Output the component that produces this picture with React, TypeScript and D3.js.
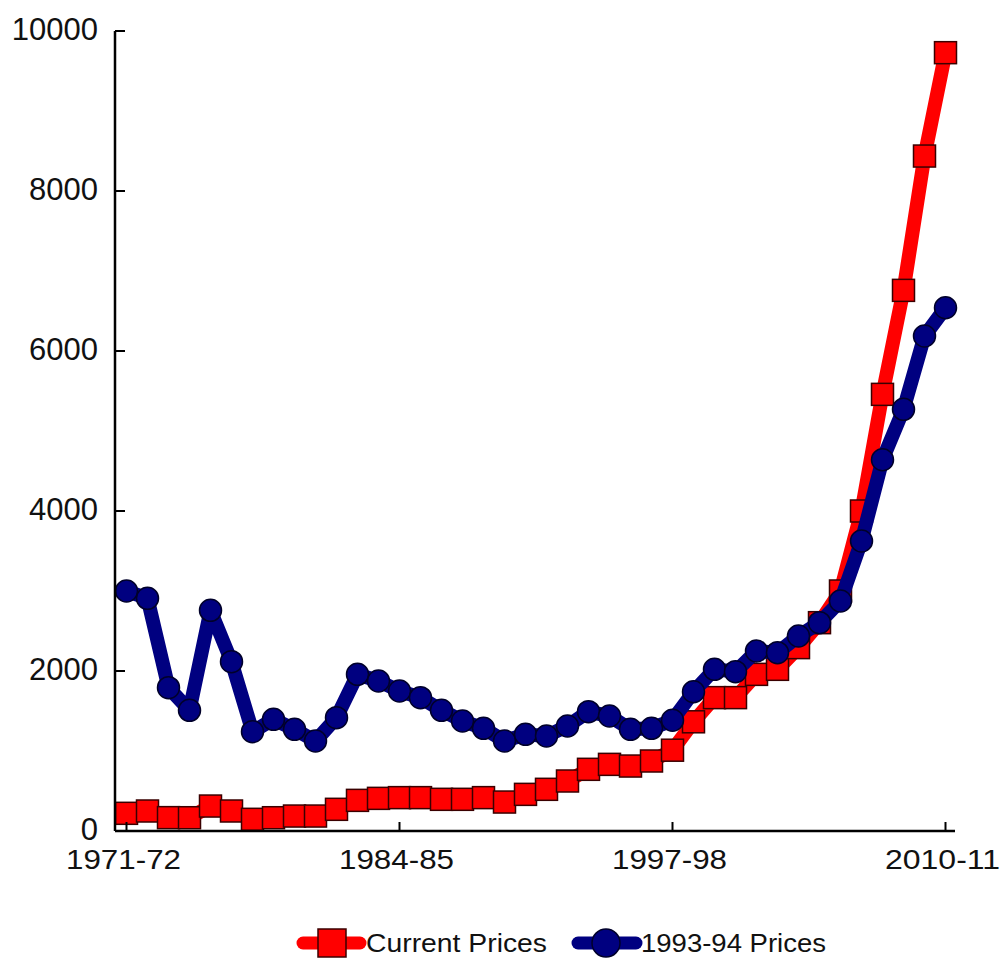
import React from "react";
import * as d3 from "d3";

const years: string[] = d3.range(1971, 2011).map((y) => `${y}-${String((y + 1) % 100).padStart(2, "0")}`);
const xTickLabels = ["1971-72", "1984-85", "1997-98", "2010-11"];
const yTicks = [0, 2000, 4000, 6000, 8000, 10000];

const currentPrices = [221, 250, 167, 166, 312, 250, 146, 166, 187, 187, 271, 383, 408, 417, 417, 396, 396, 417, 362, 458, 521, 625, 771, 833, 812, 875, 1010, 1365, 1667, 1667, 1958, 2021, 2292, 2604, 3000, 4000, 5458, 6758, 8437, 9729];
const constantPrices = [3000, 2908, 1792, 1508, 2758, 2117, 1242, 1396, 1271, 1125, 1417, 1958, 1875, 1750, 1667, 1508, 1375, 1283, 1125, 1208, 1187, 1312, 1492, 1437, 1271, 1283, 1385, 1740, 2021, 1992, 2250, 2229, 2437, 2604, 2875, 3625, 4640, 5271, 6187, 6541];

const W = 1001;
const H = 958;
const RED = "#ff0000";
const NAVY = "#000080";
const FONT = "'Liberation Sans', Arial, sans-serif";

export default function App() {
  const x = d3.scalePoint<string>().domain(years).range([126.5, 945.5]);
  const y = d3.scaleLinear().domain([0, 10000]).range([831, 31]);
  const line = d3
    .line<number>()
    .x((_, i) => x(years[i]) as number)
    .y((d) => y(d));

  const sq = 22;
  return (
    <svg width={W} height={H} style={{ position: "absolute", left: 0, top: 0, background: "#fff" }} fontFamily={FONT}>
      <rect width={W} height={H} fill="#fff" />
      {/* series */}
      <path d={line(currentPrices) || ""} fill="none" stroke={RED} strokeWidth={14} strokeLinejoin="round" strokeLinecap="round" />
      {currentPrices.map((v, i) => (
        <rect key={"c" + i} x={(x(years[i]) as number) - sq / 2} y={y(v) - sq / 2} width={sq} height={sq} fill={RED} stroke="#3a0000" strokeWidth={1.5} />
      ))}
      <path d={line(constantPrices) || ""} fill="none" stroke={NAVY} strokeWidth={14} strokeLinejoin="round" strokeLinecap="round" />
      {constantPrices.map((v, i) => (
        <circle key={"r" + i} cx={x(years[i]) as number} cy={y(v)} r={11} fill={NAVY} stroke="#00002a" strokeWidth={1.5} />
      ))}
      {/* axes */}
      <line x1={115} x2={115} y1={y(10000)} y2={y(0)} stroke="#000" strokeWidth={2.5} />
      <line x1={115} x2={955} y1={y(0)} y2={y(0)} stroke="#000" strokeWidth={2.5} />
      {yTicks.map((t) => (
        <g key={"yt" + t}>
          <line x1={115} x2={125} y1={y(t)} y2={y(t)} stroke="#000" strokeWidth={2} />
          <text x={98} y={y(t) - 2} dy="0.36em" textAnchor="end" fontSize={31} fill="#111">
            {t}
          </text>
        </g>
      ))}
      {xTickLabels.map((t) => (
        <g key={"xt" + t}>
          <line x1={x(t) as number} x2={x(t) as number} y1={y(0)} y2={y(0) - 9} stroke="#000" strokeWidth={2} />
          <text x={(x(t) as number) - 3} y={869} textAnchor="middle" fontSize={28} fill="#111" textLength={115} lengthAdjust="spacingAndGlyphs">
            {t}
          </text>
        </g>
      ))}
      {/* legend */}
      <g>
        <line x1={303} x2={360} y1={943} y2={943} stroke={RED} strokeWidth={13} strokeLinecap="round" />
        <rect x={318} y={929} width={28} height={28} fill={RED} stroke="#3a0000" strokeWidth={1.5} />
        <text x={366} y={952} fontSize={25} fill="#111" textLength={181} lengthAdjust="spacingAndGlyphs">Current Prices</text>
        <line x1={578} x2={636} y1={943} y2={943} stroke={NAVY} strokeWidth={13} strokeLinecap="round" />
        <circle cx={606} cy={943} r={14} fill={NAVY} stroke="#00002a" strokeWidth={1.5} />
        <text x={641} y={952} fontSize={25} fill="#111" textLength={185} lengthAdjust="spacingAndGlyphs">1993-94 Prices</text>
      </g>
    </svg>
  );
}
